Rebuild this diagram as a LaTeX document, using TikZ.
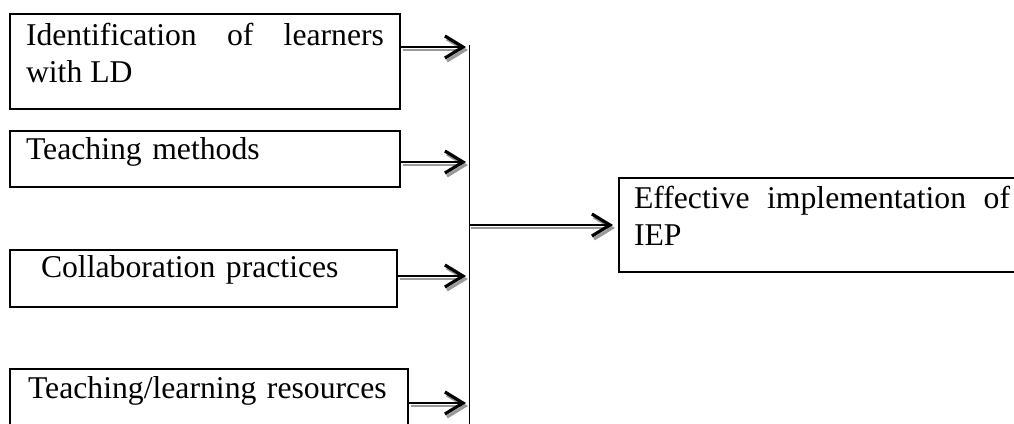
\documentclass[tikz,border=0pt]{standalone}
\usepackage{fontspec}
\setmainfont{Liberation Serif}
\usetikzlibrary{arrows.meta}

% arrow with a grey drop shadow underneath
\newcommand{\feedline}[3][]{%
  \draw[feedshade,#1] #2 -- #3;
  \draw[feed,#1] #2 -- #3;
}

\begin{document}
\begin{tikzpicture}[x=1pt,y=-1pt,
    factor/.style={draw, line width=2pt, anchor=north west, inner xsep=16pt, inner ysep=0pt,
      align=left, font=\fontsize{31.7pt}{37pt}\selectfont,
      execute at begin node={\tolerance=10000\hyphenpenalty=10000}},
    feed/.style={line width=2pt, shorten >=3pt,
      -{Straight Barb[length=18pt,width=22pt,line width=3.2pt]}},
    feedshade/.style={feed, draw=black!40, line width=2.6pt, transform canvas={shift={(2pt,-3pt)}}}]

    \useasboundingbox (0,0) rectangle (1014,423);

    \node[factor, align=justify, text width=358pt, text height=31pt, text depth=64pt] (ident) at (9,13) {Identification of learners with LD};
    \node[factor, text width=358pt, text height=28pt, text depth=28pt] (methods) at (9,130) {Teaching methods};
    \node[factor, text width=355pt, text height=27pt, text depth=30pt] (collab) at (9,249) {\hspace*{15pt}Collaboration practices};
    \node[factor, text width=366pt, text height=29pt, text depth=33pt] (resources) at (9,368) {\hspace*{2pt}Teaching/learning resources};

    \node[factor, align=justify, inner xsep=15pt, text width=376pt, text height=30pt, text depth=64pt] (result) at (618,177) {Effective implementation of IEP};

    % collecting line
    \coordinate (bustop) at (469,45);
    \coordinate (busbot) at (469,430);
    \draw[line width=1pt] (bustop) -- (busbot);

    \feedline{([yshift=-2pt]ident.base east)}{([yshift=-2pt]ident.base east -| bustop)}
    \feedline{([yshift=-3pt]methods.base east)}{([yshift=-3pt]methods.base east -| bustop)}
    \feedline{([yshift=1pt]collab.base east)}{([yshift=1pt]collab.base east -| bustop)}
    \feedline{([yshift=-5pt]resources.base east)}{([yshift=-5pt]resources.base east -| bustop)}
    \feedline[shorten >=5pt]{(bustop |- result.west)}{(result.west)}
\end{tikzpicture}
\end{document}
